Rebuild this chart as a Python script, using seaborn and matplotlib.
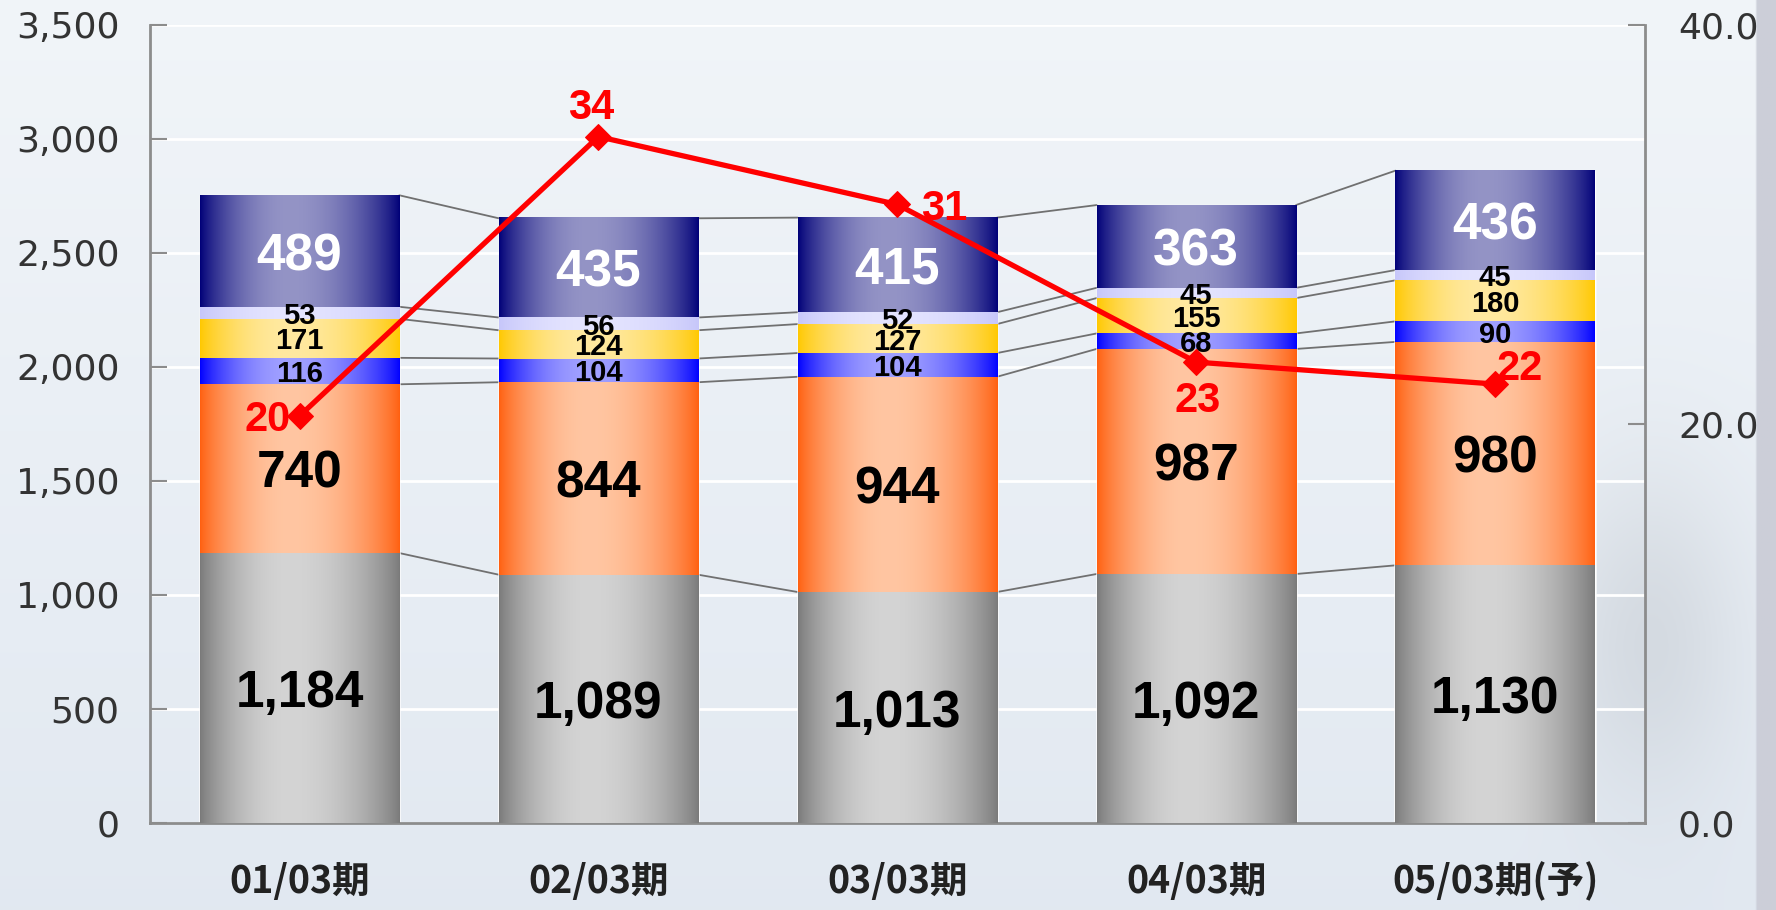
import numpy as np
import pandas as pd
import seaborn as sns
import matplotlib.pyplot as plt
from matplotlib.colors import to_rgb
from matplotlib.ticker import FuncFormatter, FixedLocator

# data
periods = ['01/03期', '02/03期', '03/03期', '04/03期', '05/03期(予)']
seg_gray = [1184, 1089, 1013, 1092, 1130]
seg_orange = [740, 844, 944, 987, 980]
seg_blue = [116, 104, 104, 68, 90]
seg_yellow = [171, 124, 127, 155, 180]
seg_lavender = [53, 56, 52, 45, 45]
seg_navy = [489, 435, 415, 363, 436]
ratio = [20.4, 34.4, 31.0, 23.1, 22.0]
ratio_labels = ['20', '34', '31', '23', '22']

# (values, edge colour, centre colour, label colour, label size)
layers = [
    (seg_gray, '#7a7a7a', '#d4d4d4', 'black', 37),
    (seg_orange, '#ff6010', '#ffc6a2', 'black', 37),
    (seg_blue, '#0000ff', '#a0a0ff', 'black', 21),
    (seg_yellow, '#ffc800', '#ffe9a0', 'black', 21),
    (seg_lavender, '#c6c6fa', '#e4e4ff', 'black', 21),
    (seg_navy, '#000078', '#9494c6', 'white', 37),
]

sns.set_style('white')
plt.rcParams['font.family'] = ['DejaVu Sans']

fig = plt.figure(figsize=(17.76, 9.1), dpi=100)

# background
yy, xx = np.mgrid[0:1:300j, 0:1:600j]
top_c = np.array([0.945, 0.960, 0.975])
bot_c = np.array([0.885, 0.912, 0.945])
bgimg = top_c * (1 - yy[..., None]) + bot_c * yy[..., None]
blob = np.exp(-(((xx - 0.93) / 0.05) ** 2 + ((yy - 0.70) / 0.18) ** 2))
bgimg = bgimg - 0.07 * blob[..., None]
bgimg[xx > 0.989] = [0.80, 0.81, 0.85]
bg = fig.add_axes([0, 0, 1, 1], zorder=-1)
bg.imshow(np.clip(bgimg, 0, 1), aspect='auto', extent=(0, 1, 0, 1))
bg.axis('off')

ax = fig.add_axes([0.0845, 0.0956, 0.8415, 0.877])
ax.patch.set_alpha(0)

W = 0.667
vals = np.array([l[0] for l in layers])
tops = np.cumsum(vals, axis=0)
bottoms = tops - vals

# stacked bars: draw cumulative heights, tallest first
for k in range(len(layers) - 1, -1, -1):
    df = pd.DataFrame({'period': periods, 'top': tops[k]})
    sns.barplot(data=df, x='period', y='top', color=layers[k][1], saturation=1,
                width=W, errorbar=None, ax=ax, zorder=2)

# cylinder-like shading on each segment (dark at both edges, light just left of centre)
t = np.linspace(0, 1, 300)
peak = 0.45
d = np.where(t < peak, (peak - t) / peak, (t - peak) / (1 - peak))
f = np.cos(d * np.pi / 2) ** 0.8
for k, (v, edge, centre, tc, fs) in enumerate(layers):
    c0, c1 = np.array(to_rgb(edge)), np.array(to_rgb(centre))
    img = (c0[None, :] * (1 - f[:, None]) + c1[None, :] * f[:, None])[None, :, :]
    for i in range(len(periods)):
        ax.imshow(img, extent=(i - W / 2, i + W / 2, bottoms[k][i], tops[k][i]),
                  aspect='auto', zorder=3, interpolation='bilinear')
        ax.text(i, bottoms[k][i] + v[i] / 2, f'{v[i]:,}', ha='center', va='center_baseline',
                fontsize=fs, fontweight='bold', color=tc, family='Liberation Sans', zorder=5)

# connector lines between bars
for k in range(len(layers)):
    for i in range(len(periods) - 1):
        ax.plot([i + W / 2, i + 1 - W / 2], [tops[k][i], tops[k][i + 1]],
                color='#707070', lw=1.3, zorder=1.5)

ax.set_xlim(-0.5, 4.5)
ax.set_ylim(0, 3500)
ax.set_yticks(np.arange(0, 3501, 500))
ax.yaxis.set_major_formatter(FuncFormatter(lambda v, p: f'{int(v):,}'))
ax.yaxis.grid(True, color='white', lw=2)
ax.set_axisbelow(True)
ax.set_xlabel('')
ax.set_ylabel('')
ax.set_xticks(range(len(periods)))
ax.set_xticklabels(periods, family=['Noto Sans CJK JP'], fontweight='bold',
                   fontsize=27, color='#222222')
ax.xaxis.set_minor_locator(FixedLocator([0.5, 1.5, 2.5, 3.5]))
ax.tick_params(axis='x', which='major', length=0, pad=28)
ax.tick_params(axis='x', which='minor', direction='in', length=10, width=1.5, color='#8c8c8c')
ax.tick_params(axis='y', direction='in', length=12, width=1.5, color='#8c8c8c',
               pad=22, labelsize=26, labelcolor='#333333')
for s in ['left', 'bottom']:
    ax.spines[s].set_color('#8c8c8c')
    ax.spines[s].set_linewidth(2)
ax.spines['top'].set_visible(False)
ax.spines['right'].set_visible(False)

# ratio line on the secondary axis
ax2 = ax.twinx()
sns.lineplot(x=np.arange(len(periods)), y=ratio, ax=ax2, color='#ff0000', lw=3.8,
             marker='D', markersize=13, markeredgecolor='#ff0000', zorder=6)
ax2.set_ylim(0, 40)
ax2.set_yticks([0, 20, 40])
ax2.yaxis.set_major_formatter(FuncFormatter(lambda v, p: f'{v:.1f}'))
ax2.tick_params(axis='y', direction='in', length=12, width=1.5, color='#8c8c8c',
                pad=24, labelsize=26, labelcolor='#333333')
for s in ['top', 'left', 'bottom']:
    ax2.spines[s].set_visible(False)
ax2.spines['right'].set_color('#8c8c8c')
ax2.spines['right'].set_linewidth(2)
ax2.grid(False)
ax2.set_ylabel('')

offsets = [(-6, 0, 'right'), (-5, 24, 'center'), (17, 0, 'left'), (1, -25, 'center'), (1, 14, 'left')]
for i, (r, lab) in enumerate(zip(ratio, ratio_labels)):
    dx, dy, ha = offsets[i]
    ax2.annotate(lab, (i, r), xytext=(dx, dy), textcoords='offset points', ha=ha,
                 va='center_baseline', color='#ff0000', fontsize=30, fontweight='bold',
                 family='Liberation Sans', zorder=7)

fig.savefig('out.png', dpi=100)
